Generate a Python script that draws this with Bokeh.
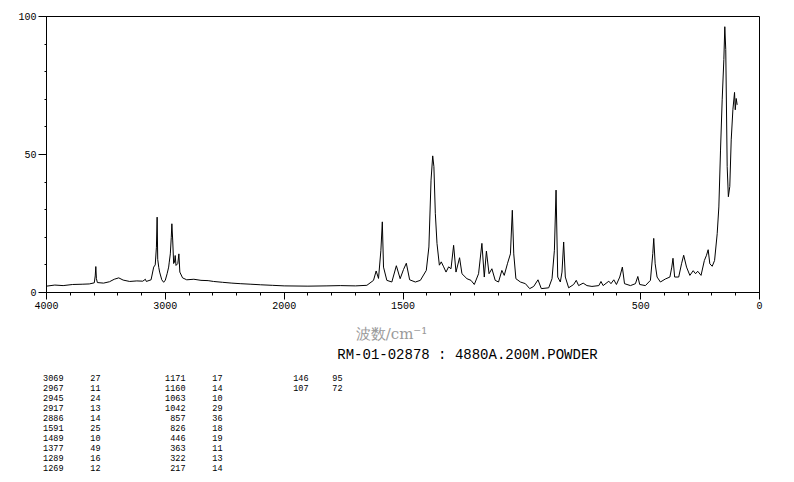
from bokeh.plotting import figure
from bokeh.layouts import column
from bokeh.models import Range1d, FixedTicker, ColumnDataSource
from bokeh.core.properties import value
from bokeh.embed import file_html
from bokeh.resources import INLINE

# ---------------- data ----------------
wavenumber = [
    4000, 3930, 3860, 3780, 3700, 3640, 3598, 3590, 3585, 3580, 3572, 3520, 3470, 3430,
    3392, 3355, 3300, 3240, 3190, 3168, 3160, 3120, 3098, 3085, 3075, 3069, 3064, 3055,
    3048, 3030, 3014, 3000, 2985, 2972, 2967, 2958, 2950, 2945, 2938, 2930, 2923, 2917,
    2910, 2895, 2886, 2878, 2855, 2820, 2760, 2700, 2640, 2594, 2520, 2440, 2370, 2280,
    2200, 2100, 2000, 1900, 1820, 1764, 1700, 1652, 1624, 1613, 1603, 1593, 1587, 1582,
    1568, 1547, 1528, 1512, 1498, 1486, 1472, 1448, 1427, 1402, 1391, 1382, 1375, 1370,
    1364, 1357, 1347, 1339, 1329, 1319, 1308, 1298, 1287, 1277, 1262, 1252, 1231, 1214,
    1200, 1182, 1168, 1158, 1149, 1138, 1126, 1112, 1098, 1084, 1074, 1060, 1048, 1040,
    1034, 1025, 1006, 985, 967, 950, 932, 918, 887, 873, 863, 856, 849, 838, 831, 824,
    817, 803, 782, 771, 761, 742, 726, 705, 676, 667, 658, 634, 625, 613, 602, 588, 577,
    568, 543, 522, 512, 504, 480, 459, 449, 445, 439, 431, 417, 396, 377, 369, 364, 357,
    340, 328, 319, 307, 293, 279, 269, 260, 246, 232, 223, 216, 209, 199, 189, 178, 171,
    164, 157, 150, 146, 142, 136, 131, 125, 119, 112, 105, 102, 98, 94,
]
intensity = [
    2.3, 2.7, 2.5, 2.9, 3.0, 3.1, 3.5, 6.0, 9.4, 5.0, 3.6, 3.4, 3.9, 4.8,
    5.3, 4.5, 4.0, 4.2, 4.1, 4.8, 4.0, 4.6, 9.2, 10.0, 16.4, 27.3, 12.0, 9.0,
    7.4, 4.6, 3.7, 4.5, 6.8, 9.2, 11.0, 14.0, 20.0, 24.9, 19.0, 10.5, 11.0, 13.4,
    9.8, 10.5, 14.0, 7.4, 5.3, 4.6, 4.8, 4.4, 4.3, 4.0, 3.7, 3.4, 3.2, 3.0,
    2.8, 2.6, 2.4, 2.3, 2.4, 2.5, 2.4, 2.6, 4.4, 7.8, 5.1, 15.3, 25.6, 9.2,
    4.4, 3.8, 9.7, 5.0, 8.3, 10.6, 4.6, 3.8, 4.4, 8.0, 16.5, 40.7, 49.5, 45.6,
    28.7, 17.8, 9.9, 11.1, 9.3, 7.4, 9.3, 8.6, 17.1, 7.4, 12.6, 6.8, 5.0, 4.4,
    2.9, 6.8, 17.8, 5.6, 15.0, 6.8, 8.6, 4.4, 3.8, 8.0, 6.2, 10.6, 14.0, 29.8,
    14.0, 5.0, 3.8, 3.2, 1.4, 2.2, 4.6, 1.4, 1.7, 5.0, 15.3, 37.1, 5.6, 3.8, 7.4, 18.3,
    5.6, 1.7, 2.9, 4.4, 2.5, 3.4, 2.5, 2.2, 2.5, 4.0, 2.5, 4.1, 3.2, 4.6, 2.9, 5.6, 9.2,
    3.2, 2.5, 3.2, 5.8, 2.9, 2.5, 4.4, 14.1, 19.6, 10.4, 5.6, 3.8, 4.9, 5.6, 9.2, 12.4, 5.6,
    5.6, 10.4, 13.5, 9.2, 6.2, 7.9, 6.8, 7.7, 6.2, 11.6, 13.5, 15.5, 10.4, 9.5, 11.6, 21.3, 31.0,
    51.6, 69.8, 84.4, 96.3, 88.0, 45.6, 34.7, 38.4, 55.3, 66.2, 72.5, 66.2, 70.3, 68.0,
]

x_tick_values = [4000, 3000, 2000, 1500, 500, 0]
y_tick_values = [0, 50, 100]

peak_wn_1 = [3069, 2967, 2945, 2917, 2886, 1591, 1489, 1377, 1289, 1269]
peak_int_1 = [27, 11, 24, 13, 14, 25, 10, 49, 16, 12]
peak_wn_2 = [1171, 1160, 1063, 1042, 857, 826, 446, 363, 322, 217]
peak_int_2 = [17, 14, 10, 29, 36, 18, 19, 11, 13, 14]
peak_wn_3 = [146, 107]
peak_int_3 = [95, 72]

x_label = "波数/cm⁻¹"
title_text = "RM-01-02878 : 4880A.200M.POWDER"


# The spectrometer axis is compressed 2:1 above 2000 cm-1.
def to_axis(w):
    return (4000 - w) / 2 if w >= 2000 else 1000 + (2000 - w)


xs = [to_axis(w) for w in wavenumber]
mono = "Liberation Mono"

# ---------------- spectrum panel ----------------
TOP_H = 316
p = figure(frame_width=713, frame_height=276, output_backend="svg", toolbar_location=None,
           x_range=Range1d(0, 3000), y_range=Range1d(0, 100),
           min_border_left=46, min_border_right=35, min_border_top=16,
           min_border_bottom=TOP_H - 16 - 276)
p.frame_align = False
p.background_fill_color = "white"
p.border_fill_color = "white"
p.grid.visible = False
p.outline_line_color = "black"
p.outline_line_width = 1

p.line(xs, intensity, line_color="black", line_width=1)

xt = [to_axis(v) for v in x_tick_values]
p.xaxis.ticker = FixedTicker(ticks=xt, minor_ticks=list(range(0, 3001, 100)))
p.xaxis.major_label_overrides = {t: str(v) for t, v in zip(xt, x_tick_values)}
p.yaxis.ticker = FixedTicker(ticks=y_tick_values, minor_ticks=list(range(0, 101, 10)))
for ax in (p.xaxis[0], p.yaxis[0]):
    ax.axis_line_color = "black"
    ax.major_tick_line_color = "black"
    ax.minor_tick_line_color = "black"
    ax.major_tick_in = 0
    ax.minor_tick_in = 0
    ax.major_label_text_font = mono
    ax.major_label_text_font_size = "10px"
    ax.major_label_text_color = "black"
p.xaxis.major_tick_out = 7
p.xaxis.minor_tick_out = 3
p.xaxis.major_label_standoff = 2
p.yaxis.major_tick_out = 8
p.yaxis.minor_tick_out = 2
p.yaxis.major_label_standoff = 2

# ---------------- caption / peak table panel (coordinates = page pixels) ----------------
W, H = 794, 482
q = figure(frame_width=W, frame_height=H - TOP_H, output_backend="svg", toolbar_location=None,
           x_range=Range1d(0, W), y_range=Range1d(H, TOP_H),
           x_axis_type=None, y_axis_type=None, min_border=0)
q.frame_align = False
q.outline_line_color = None
q.grid.visible = False
q.background_fill_color = "white"
q.border_fill_color = "white"

q.text(x=[391], y=[333], text=[x_label], text_align="center", text_baseline="middle",
       text_color="#9a9a9a", text_font=value("DejaVu Serif"), text_font_size="15px")
q.text(x=[467], y=[354], text=[title_text], text_align="center", text_baseline="middle",
       text_color="black", text_font=value(mono), text_font_size="14px")

row_y0 = 377
row_dy = 10.1
col_x = [63, 100, 185, 222, 308, 342]
tx, ty, tt = [], [], []
for ci, (wl, il) in enumerate([(peak_wn_1, peak_int_1), (peak_wn_2, peak_int_2),
                               (peak_wn_3, peak_int_3)]):
    for ri, (w, i) in enumerate(zip(wl, il)):
        tx += [col_x[2 * ci], col_x[2 * ci + 1]]
        ty += [row_y0 + ri * row_dy] * 2
        tt += [str(w), str(i)]
src = ColumnDataSource(dict(x=tx, y=ty, t=tt))
q.text(x="x", y="y", text="t", source=src, text_align="right", text_baseline="middle",
       text_font=value(mono), text_font_size="8.5px", text_color="black")

layout = column(p, q, spacing=0)
open("out.html", "w").write(file_html(layout, INLINE))
